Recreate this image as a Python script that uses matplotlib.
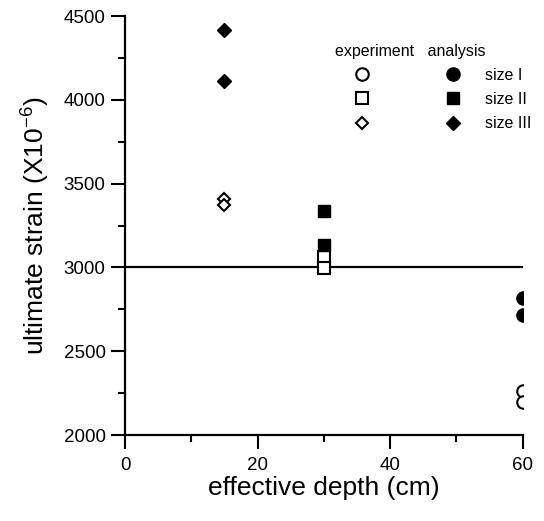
import numpy as np
import matplotlib.pyplot as plt
from matplotlib.lines import Line2D

plt.rcParams['font.family'] = ['Liberation Sans', 'DejaVu Sans']
plt.rcParams['mathtext.default'] = 'regular'

################################################################################
# Data
################################################################################
# size I
depth_I = [60, 60]
exp_I = [2260, 2200]
ana_I = [2820, 2715]
# size II
depth_II = [30, 30]
exp_II = [3065, 2995]
ana_II = [3340, 3135]
# size III
depth_III = [15, 15]
exp_III = [3410, 3370]
ana_III = [4420, 4110]

limit = 3000

################################################################################
# Plot
################################################################################
fig = plt.figure(figsize=(5.44, 5.21), dpi=100)
ax = fig.add_axes([0.2298, 0.165, 0.731, 0.804])

ms = 9
ax.axhline(limit, color='black', lw=1.6, xmin=0, xmax=1, zorder=1)
ax.plot(depth_I, exp_I, 'o', mfc='white', mec='black', mew=1.5, ms=ms, ls='none')
ax.plot(depth_II, exp_II, 's', mfc='white', mec='black', mew=1.5, ms=ms - 0.5, ls='none')
ax.plot(depth_III, exp_III, 'D', mfc='white', mec='black', mew=1.5, ms=ms - 2.5, ls='none')
ax.plot(depth_I, ana_I, 'o', color='black', ms=ms + 0.5, ls='none')
ax.plot(depth_II, ana_II, 's', color='black', ms=ms, ls='none')
ax.plot(depth_III, ana_III, 'D', color='black', ms=ms - 2, ls='none')

ax.set_xlim(0, 60)
ax.set_ylim(2000, 4500)
ax.set_xticks([0, 20, 40, 60])
ax.set_xticks([10, 30, 50], minor=True)
ax.set_yticks([2000, 2500, 3000, 3500, 4000, 4500])
ax.set_yticks([2250, 2750, 3250, 3750, 4250], minor=True)

for s in ['top', 'right']:
    ax.spines[s].set_visible(False)
for s in ['left', 'bottom']:
    ax.spines[s].set_linewidth(1.6)
ax.tick_params(which='major', length=10, width=1.5, labelsize=13.5, pad=4)
ax.tick_params(which='minor', length=5, width=1.5)
ax.tick_params(axis='x', which='major', pad=6)

ax.set_xlabel('effective depth (cm)', fontsize=19, labelpad=1)
ax.set_ylabel('ultimate strain (X10$^{-6}$)', fontsize=19, labelpad=8)

# legend: open = experiment, filled = analysis
h = [Line2D([], [], marker='o', mfc='white', mec='black', mew=1.5, ms=ms, ls='none'),
     Line2D([], [], marker='s', mfc='white', mec='black', mew=1.5, ms=ms - 0.5, ls='none'),
     Line2D([], [], marker='D', mfc='white', mec='black', mew=1.5, ms=ms - 2.5, ls='none'),
     Line2D([], [], marker='o', color='black', ms=ms + 0.5, ls='none'),
     Line2D([], [], marker='s', color='black', ms=ms, ls='none'),
     Line2D([], [], marker='D', color='black', ms=ms - 2, ls='none')]
labels = ['', '', '', 'size I', 'size II', 'size III']
leg = ax.legend(h, labels, ncols=2, frameon=False, title='experiment   analysis',
                fontsize=11.5, title_fontsize=11.5, loc='upper left',
                bbox_to_anchor=(0.492, 0.969), handlelength=3.4,
                columnspacing=1.97, handletextpad=0.3, labelspacing=0.58)
leg._legend_box.align = 'left'

fig.savefig('out.png', dpi=100)
